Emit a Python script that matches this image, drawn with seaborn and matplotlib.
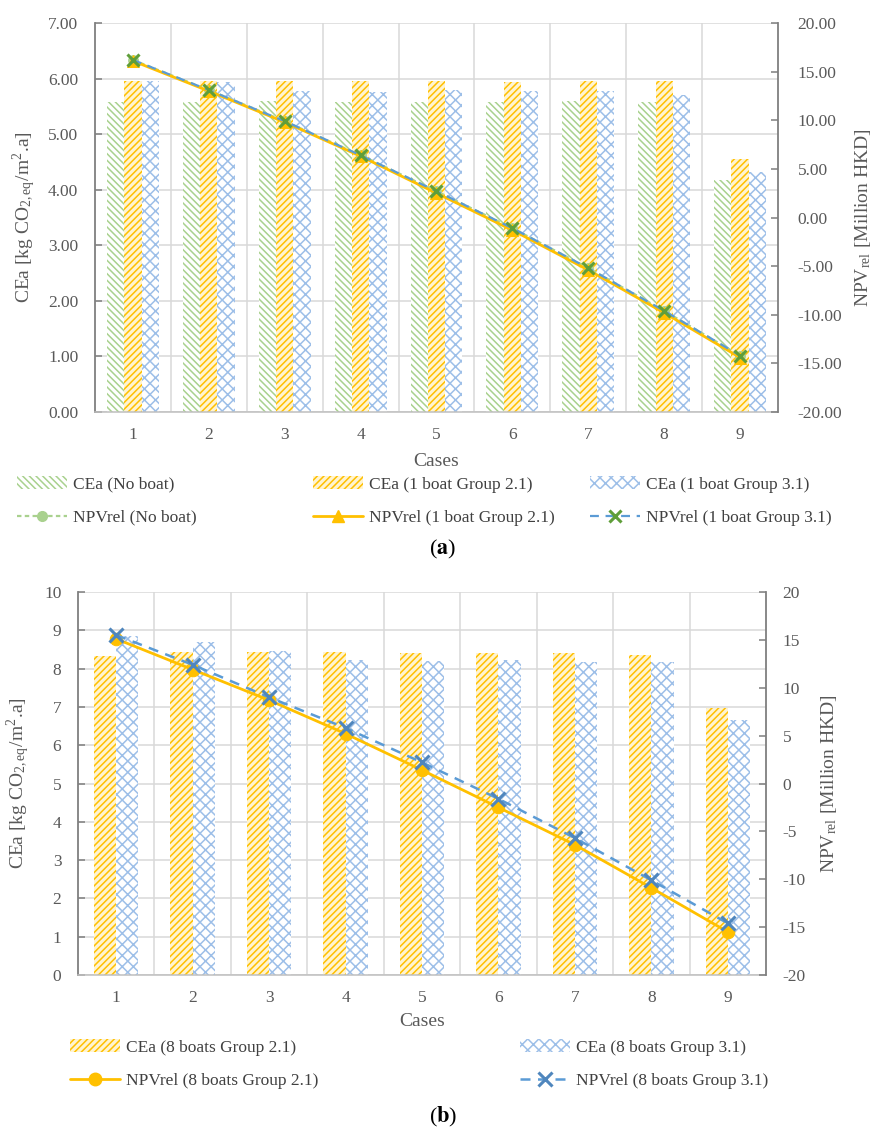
import numpy as np
import pandas as pd
import matplotlib
matplotlib.use("Agg")
import matplotlib.pyplot as plt
from matplotlib.patches import Patch
from matplotlib.lines import Line2D
from matplotlib.ticker import FormatStrFormatter, MultipleLocator
import seaborn as sns

# ---------------- data ----------------
cases = ["1", "2", "3", "4", "5", "6", "7", "8", "9"]

# (a) no boat / 1 boat
cea_a_noboat = [5.58, 5.58, 5.59, 5.58, 5.58, 5.58, 5.59, 5.58, 4.18]
cea_a_g21 = [5.95, 5.95, 5.95, 5.95, 5.95, 5.93, 5.95, 5.95, 4.55]
cea_a_g31 = [5.95, 5.93, 5.77, 5.76, 5.80, 5.77, 5.77, 5.70, 4.31]
npv_a_noboat = [16.2, 13.1, 9.9, 6.4, 2.7, -1.1, -5.2, -9.6, -14.2]
npv_a_g21 = [16.1, 13.0, 9.8, 6.3, 2.5, -1.3, -5.4, -9.8, -14.4]
npv_a_g31 = [16.2, 13.1, 9.9, 6.4, 2.7, -1.1, -5.2, -9.6, -14.2]

# (b) 8 boats
cea_b_g21 = [8.33, 8.43, 8.43, 8.43, 8.40, 8.40, 8.40, 8.35, 6.97]
cea_b_g31 = [8.85, 8.69, 8.45, 8.22, 8.20, 8.22, 8.17, 8.17, 6.66]
npv_b_g21 = [15.1, 11.9, 8.7, 5.2, 1.4, -2.5, -6.4, -10.9, -15.5]
npv_b_g31 = [15.5, 12.4, 9.0, 5.8, 2.2, -1.6, -5.7, -10.1, -14.6]

# ---------------- style ----------------
sns.set_style("white")
plt.rcParams["font.family"] = ["Liberation Serif", "DejaVu Serif"]
plt.rcParams["mathtext.fontset"] = "stix"
plt.rcParams["hatch.linewidth"] = 1.1
plt.rcParams["axes.unicode_minus"] = False

TXT = "#595959"
SPINE = "#7f7f7f"
GRID = "#d9d9d9"
GREEN = "#a9d18e"
YELLOW = "#ffc000"
BLUE_BAR = "#9dbfe8"
BLUE_LINE = "#5b9bd5"
XGREEN = "#5f9e3a"

W, H = 887, 1133
fig = plt.figure(figsize=(W / 100, H / 100), dpi=100)


def axes_px(left, top, right, bottom):
    return fig.add_axes([left / W, 1 - bottom / H, (right - left) / W, (bottom - top) / H])


def style_axes(ax, ax2, ymax, ystep, fmt_l, y2min, y2max, y2step, fmt_r, lpad, rpad):
    n = len(cases)
    ax.set_xlim(-0.5, n - 0.5)
    ax.set_ylim(0, ymax)
    ax.yaxis.set_major_locator(MultipleLocator(ystep))
    ax.yaxis.set_major_formatter(FormatStrFormatter(fmt_l))
    ax.set_xticks(range(n))
    ax.set_xticklabels(cases)
    ax.set_xticks(np.arange(0.5, n - 1, 1), minor=True)
    ax.grid(axis="y", which="major", color=GRID, lw=1.1)
    ax.grid(axis="x", which="minor", color=GRID, lw=1.1)
    ax.set_axisbelow(True)
    ax.tick_params(axis="x", which="both", length=0, pad=11, labelsize=12.5, labelcolor=TXT)
    ax.tick_params(axis="y", direction="in", length=5, width=1.1, color=SPINE,
                   pad=lpad, labelsize=12.5, labelcolor=TXT)
    ax.spines["top"].set_visible(False)
    ax.spines["right"].set_visible(False)
    ax.spines["left"].set_color(SPINE)
    ax.spines["left"].set_linewidth(1.3)
    ax.spines["bottom"].set_color("#bfbfbf")
    ax.spines["bottom"].set_linewidth(1.1)

    ax2.set_ylim(y2min, y2max)
    ax2.yaxis.set_major_locator(MultipleLocator(y2step))
    ax2.yaxis.set_major_formatter(FormatStrFormatter(fmt_r))
    ax2.tick_params(axis="y", direction="in", length=5, width=1.1, color=SPINE,
                    pad=rpad, labelsize=12.5, labelcolor=TXT)
    for s in ["top", "left", "bottom"]:
        ax2.spines[s].set_visible(False)
    ax2.spines["right"].set_color(SPINE)
    ax2.spines["right"].set_linewidth(1.3)
    ax2.grid(False)


def draw_bars(ax, series, labels, hatches, colors, faces, width):
    df = pd.DataFrame({
        "case": np.tile(cases, len(series)),
        "series": np.repeat(labels, len(cases)),
        "value": np.concatenate([np.asarray(s, float) for s in series]),
    })
    sns.barplot(data=df, x="case", y="value", hue="series", hue_order=labels,
                order=cases, width=width, gap=0, errorbar=None, legend=False,
                palette=dict(zip(labels, colors)), saturation=1, ax=ax)
    for cont, h, c, f in zip(ax.containers, hatches, colors, faces):
        for bar in cont:
            bar.set_facecolor(f)
            bar.set_edgecolor(c)
            bar.set_hatch(h)
            bar.set_linewidth(0)


LABEL_FS = 14

# ================= (a) =================
ax_a = axes_px(95, 23, 778, 412)
labels_a = ["CEa (No boat)", "CEa (1 boat Group 2.1)", "CEa (1 boat Group 3.1)"]
hatch_a = ["\\\\\\\\\\", "/////", "xxx"]
col_a = [GREEN, YELLOW, BLUE_BAR]
face_a = ["white", "#fff4d0", "white"]
draw_bars(ax_a, [cea_a_noboat, cea_a_g21, cea_a_g31], labels_a, hatch_a, col_a, face_a, 0.685)
ax_a2 = ax_a.twinx()
xs = np.arange(len(cases))
sns.lineplot(x=xs, y=npv_a_noboat, ax=ax_a2, color=GREEN, linestyle=(0, (2, 1.5)), lw=1.6,
             marker="o", markersize=7, markeredgecolor=GREEN, markerfacecolor=GREEN)
sns.lineplot(x=xs, y=npv_a_g21, ax=ax_a2, color=YELLOW, linestyle="-", lw=2,
             marker="^", markersize=8, markeredgecolor=YELLOW, markerfacecolor=YELLOW)
sns.lineplot(x=xs, y=npv_a_g31, ax=ax_a2, color=BLUE_LINE, linestyle=(0, (4, 3)), lw=1.6,
             marker="x", markersize=9, markeredgewidth=2.2, markeredgecolor=XGREEN)
style_axes(ax_a, ax_a2, 7, 1, "%.2f", -20, 20, 5, "%.2f", 12, 14)
ax_a.set_xlabel("Cases", fontsize=LABEL_FS, color=TXT)
ax_a.xaxis.set_label_coords(0.5, -0.105)
ax_a.set_ylabel(r"CEa [kg CO$_{\mathregular{2,eq}}$/m$^{\mathregular{2}}$.a]", fontsize=LABEL_FS, color=TXT)
ax_a.yaxis.set_label_coords(-0.083, 0.5)
ax_a2.set_ylabel(r"NPV$_{\mathregular{rel}}$ [Million HKD]", fontsize=LABEL_FS, color=TXT)
ax_a2.yaxis.set_label_coords(1.11, 0.5)

leg_kw = dict(frameon=False, loc="upper left", borderpad=0, borderaxespad=0,
              handlelength=2.9, handleheight=0.8, handletextpad=0.3, labelspacing=0.95,
              fontsize=12.5, labelcolor="#404040")

handles_a = [
    [Patch(facecolor=face_a[0], edgecolor=col_a[0], hatch=hatch_a[0], lw=0),
     Line2D([], [], color=GREEN, ls=(0, (2, 1.5)), lw=1.6, marker="o", ms=7, mfc=GREEN, mec=GREEN)],
    [Patch(facecolor=face_a[1], edgecolor=col_a[1], hatch=hatch_a[1], lw=0),
     Line2D([], [], color=YELLOW, ls="-", lw=2, marker="^", ms=8, mfc=YELLOW, mec=YELLOW)],
    [Patch(facecolor=face_a[2], edgecolor=col_a[2], hatch=hatch_a[2], lw=0),
     Line2D([], [], color=BLUE_LINE, ls=(0, (4, 3)), lw=1.6, marker="x", ms=9, mew=2.2, mec=XGREEN)],
]
texts_a = [
    ["CEa (No boat)", "NPVrel (No boat)"],
    ["CEa (1 boat Group 2.1)", "NPVrel (1 boat Group 2.1)"],
    ["CEa (1 boat Group 3.1)", "NPVrel (1 boat Group 3.1)"],
]
for xpx, hs, ts in zip([17, 313, 590], handles_a, texts_a):
    fig.legend(hs, ts, bbox_to_anchor=(xpx / W, 1 - 476 / H), **leg_kw)

fig.text(443 / W, 1 - 549 / H, r"($\mathbf{a}$)", ha="center", va="center", fontsize=16, color="black")

# ================= (b) =================
ax_b = axes_px(78, 592, 766, 975)
labels_b = ["CEa (8 boats Group 2.1)", "CEa (8 boats Group 3.1)"]
hatch_b = ["/////", "xxx"]
col_b = [YELLOW, BLUE_BAR]
face_b = ["#fff4d0", "white"]
draw_bars(ax_b, [cea_b_g21, cea_b_g31], labels_b, hatch_b, col_b, face_b, 0.58)
ax_b2 = ax_b.twinx()
sns.lineplot(x=xs, y=npv_b_g21, ax=ax_b2, color=YELLOW, linestyle="-", lw=2,
             marker="o", markersize=9, markeredgecolor=YELLOW, markerfacecolor=YELLOW)
sns.lineplot(x=xs, y=npv_b_g31, ax=ax_b2, color=BLUE_LINE, linestyle=(0, (4, 3)), lw=1.8,
             marker="x", markersize=10, markeredgewidth=2.2, markeredgecolor="#4f86bd")
style_axes(ax_b, ax_b2, 10, 1, "%d", -20, 20, 5, "%d", 12, 12)
ax_b.set_xlabel("Cases", fontsize=LABEL_FS, color=TXT)
ax_b.xaxis.set_label_coords(0.5, -0.099)
ax_b.set_ylabel(r"CEa [kg CO$_{\mathregular{2,eq}}$/m$^{\mathregular{2}}$.a]", fontsize=LABEL_FS, color=TXT)
ax_b.yaxis.set_label_coords(-0.067, 0.5)
ax_b2.set_ylabel(r"NPV$_{\mathregular{rel}}$ [Million HKD]", fontsize=LABEL_FS, color=TXT)
ax_b2.yaxis.set_label_coords(1.077, 0.5)

handles_b = [
    [Patch(facecolor=face_b[0], edgecolor=col_b[0], hatch=hatch_b[0], lw=0),
     Line2D([], [], color=YELLOW, ls="-", lw=2, marker="o", ms=9, mfc=YELLOW, mec=YELLOW)],
    [Patch(facecolor=face_b[1], edgecolor=col_b[1], hatch=hatch_b[1], lw=0),
     Line2D([], [], color=BLUE_LINE, ls=(0, (4, 3)), lw=1.8, marker="x", ms=10, mew=2.2, mec="#4f86bd")],
]
texts_b = [
    ["CEa (8 boats Group 2.1)", "NPVrel (8 boats Group 2.1)"],
    ["CEa (8 boats Group 3.1)", "NPVrel (8 boats Group 3.1)"],
]
for xpx, hs, ts in zip([70, 520], handles_b, texts_b):
    fig.legend(hs, ts, bbox_to_anchor=(xpx / W, 1 - 1039 / H), **leg_kw)

fig.text(443 / W, 1 - 1117 / H, r"($\mathbf{b}$)", ha="center", va="center", fontsize=16, color="black")

fig.savefig("out.png", dpi=100)
